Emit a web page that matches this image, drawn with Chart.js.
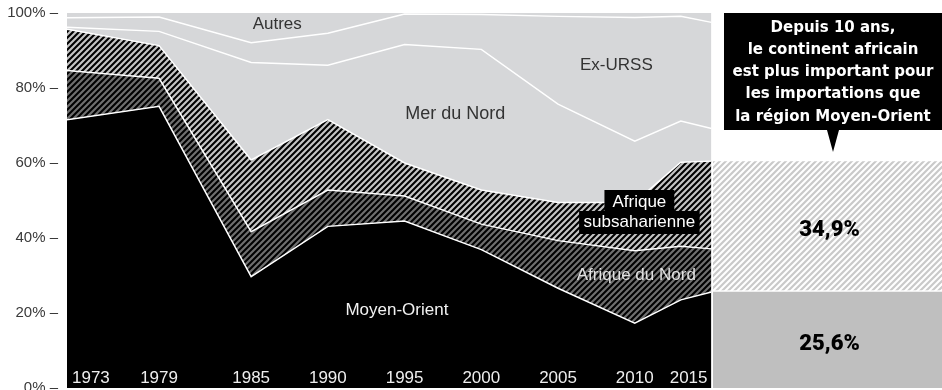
<!DOCTYPE html>
<html>
<head>
<meta charset="utf-8">
<style>
  html, body { margin: 0; padding: 0; background: #fff; }
  #wrap { display: flex; width: 942px; height: 390px; }
  canvas { display: block; }
</style>
<script src="https://cdn.jsdelivr.net/npm/chart.js@4.4.1/dist/chart.umd.min.js"></script>
</head>
<body>
<div id="wrap">
  <canvas id="areas" width="713" height="390"></canvas>
  <canvas id="parts" width="229" height="390"></canvas>
</div>
<script>
// provenance des importations de pétrole brut, en % du total
const years = [1973, 1979, 1985, 1990, 1995, 2000, 2005, 2010, 2013, 2015];
const moyenOrient = [71.5, 75.1, 29.7, 43.1, 44.5, 36.9, 26.6, 17.3, 23.5, 25.6];
const afriqueNord = [13.2, 7.5, 12.0, 9.7, 6.7, 6.8, 12.7, 19.3, 14.3, 11.5];
const afriqueSub = [11.0, 8.7, 19.1, 18.8, 8.8, 9.1, 10.2, 12.9, 22.4, 23.4];
const merDuNord = [0.5, 3.8, 26.0, 14.5, 31.6, 37.5, 26.2, 16.3, 11.0, 8.7];
const exUrss = [2.5, 3.8, 5.3, 8.5, 8.1, 9.3, 23.4, 33.0, 27.9, 28.3];
const autres = [1.3, 1.1, 7.9, 5.4, 0.3, 0.4, 0.9, 1.2, 0.9, 2.5];

const yearTicks = [1973, 1979, 1985, 1990, 1995, 2000, 2005, 2010, 2015];
const pctTicks = [0, 20, 40, 60, 80, 100];

// dernière année : Moyen-Orient vs continent africain
const partNames = ['Moyen-Orient', 'Afrique'];
const partValues = [25.6, 34.9];

const calloutLines = [
  'Depuis 10 ans,',
  'le continent africain',
  'est plus important pour',
  'les importations que',
  'la région Moyen-Orient'
];

const GREY = '#d6d7d9';

// motif hachuré "/" de période `size`
function hatch(bg, fg, size) {
  const c = document.createElement('canvas');
  c.width = c.height = size;
  const g = c.getContext('2d');
  g.fillStyle = bg;
  g.fillRect(0, 0, size, size);
  g.strokeStyle = fg;
  g.lineWidth = size * 0.36;
  g.beginPath();
  g.moveTo(0, size); g.lineTo(size, 0);
  g.moveTo(-1, 1); g.lineTo(1, -1);
  g.moveTo(size - 1, size + 1); g.lineTo(size + 1, size - 1);
  g.stroke();
  return g.createPattern(c, 'repeat');
}

const ctxA = document.getElementById('areas').getContext('2d');
const ctxB = document.getElementById('parts').getContext('2d');

const hatchSub = hatch('#000', '#c4c4c4', 6);
const hatchNord = hatch('#000', '#6f6f6f', 6);
const hatchPanel = hatch('#fff', '#c9c9c9', 6);

function serie(label, values, fill, bg, border) {
  return {
    label: label,
    data: years.map((y, i) => ({ x: y, y: values[i] })),
    fill: fill,
    backgroundColor: bg,
    borderColor: '#fff',
    borderWidth: border,
    pointRadius: 0,
    tension: 0
  };
}

// étiquettes des zones, en coordonnées (année, %)
const zoneLabels = [
  { text: ['Autres'], x: 1986.7, y: 97.3, color: '#333', size: 17 },
  { text: ['Ex-URSS'], x: 2008.8, y: 86.2, color: '#333', size: 17 },
  { text: ['Mer du Nord'], x: 1998.3, y: 73.4, color: '#333', size: 18 },
  { text: ['Afrique', 'subsaharienne'], x: 2010.3, y: 47.2, color: '#fff', size: 17, box: true },
  { text: ['Afrique du Nord'], x: 2010.1, y: 30.2, color: '#e2e2e2', size: 17 },
  { text: ['Moyen-Orient'], x: 1994.5, y: 21.1, color: '#f2f2f2', size: 17 }
];

const areaDecor = {
  id: 'areaDecor',
  afterDatasetsDraw(chart) {
    const { ctx, chartArea, scales } = chart;
    const xs = scales.x, ys = scales.y;
    ctx.save();
    // axe des pourcentages
    ctx.font = '15px "Liberation Sans", Arial, sans-serif';
    ctx.fillStyle = '#3a3a3a';
    ctx.textAlign = 'right';
    ctx.textBaseline = 'middle';
    pctTicks.forEach(v => {
      ctx.fillText(v + '% –', chartArea.left - 9, ys.getPixelForValue(v));
    });
    // années, dans la zone noire
    ctx.font = '17px "Liberation Sans", Arial, sans-serif';
    ctx.fillStyle = '#eeeeee';
    ctx.textBaseline = 'alphabetic';
    const yb = chartArea.bottom - 5.5;
    yearTicks.forEach((yr, i) => {
      let px = xs.getPixelForValue(yr);
      if (i === 0) { ctx.textAlign = 'left'; px = chartArea.left + 5; }
      else if (i === yearTicks.length - 1) { ctx.textAlign = 'right'; px = chartArea.right - 4; }
      else ctx.textAlign = 'center';
      ctx.fillText(String(yr), px, yb);
    });
    // noms des zones
    ctx.textAlign = 'center';
    ctx.textBaseline = 'middle';
    zoneLabels.forEach(l => {
      ctx.font = l.size + 'px "Liberation Sans", Arial, sans-serif';
      const px = xs.getPixelForValue(l.x);
      const py = ys.getPixelForValue(l.y);
      const lh = 20;
      const y0 = py - (l.text.length - 1) * lh / 2;
      if (l.box) {
        ctx.fillStyle = '#000';
        l.text.forEach((t, k) => {
          const w = ctx.measureText(t).width + (k === 0 ? 16 : 9);
          ctx.fillRect(px - w / 2, y0 + k * lh - lh / 2 - (k === 0 ? 1 : 0), w, lh + (k === 0 ? 1 : 3));
        });
      }
      ctx.fillStyle = l.color;
      l.text.forEach((t, k) => ctx.fillText(t, px, y0 + k * lh + 1));
    });
    ctx.restore();
  }
};

new Chart(ctxA, {
  type: 'line',
  data: {
    datasets: [
      serie('Moyen-Orient', moyenOrient, 'origin', '#000', 1.5),
      serie('Afrique du Nord', afriqueNord, '-1', hatchNord, 1.5),
      serie('Afrique subsaharienne', afriqueSub, '-1', hatchSub, 1.5),
      serie('Mer du Nord', merDuNord, '-1', GREY, 1.5),
      serie('Ex-URSS', exUrss, '-1', GREY, 1.5),
      serie('Autres', autres, '-1', GREY, 0)
    ]
  },
  options: {
    responsive: false,
    animation: false,
    layout: { padding: { left: 67, right: 1.5, top: 13, bottom: 2 } },
    plugins: { legend: { display: false }, tooltip: { enabled: false } },
    scales: {
      x: { type: 'linear', min: years[0], max: years[years.length - 1], display: false },
      y: { stacked: true, min: 0, max: 100, display: false }
    }
  },
  plugins: [areaDecor]
});

const partDecor = {
  id: 'partDecor',
  afterDatasetsDraw(chart) {
    const { ctx, chartArea } = chart;
    ctx.save();
    // valeurs dans les barres
    ctx.font = '900 22px Roboto, Lato, "Liberation Sans", sans-serif';
    ctx.fillStyle = '#000';
    ctx.textAlign = 'center';
    ctx.textBaseline = 'middle';
    chart.data.datasets.forEach((ds, i) => {
      const el = chart.getDatasetMeta(i).data[0];
      const v = ds.data[0];
      ctx.fillText(v.toFixed(1).replace('.', ',') + '%', el.x + 2, (el.y + el.base) / 2 + 4);
    });
    // bulle
    const left = 11, right = chartArea.right, top = chartArea.top, bottom = top + 117;
    const cx = (left + right) / 2;
    ctx.fillStyle = '#000';
    ctx.fillRect(left, top, right - left, bottom - top);
    ctx.beginPath();
    ctx.moveTo(cx - 6, bottom);
    ctx.lineTo(cx + 6, bottom);
    ctx.lineTo(cx, bottom + 22);
    ctx.closePath();
    ctx.fill();
    ctx.font = 'bold 15px "DejaVu Sans", sans-serif';
    ctx.fillStyle = '#fff';
    ctx.textBaseline = 'alphabetic';
    calloutLines.forEach((t, k) => ctx.fillText(t, cx, top + 18.5 + k * 22.3));
    ctx.restore();
  }
};

new Chart(ctxB, {
  type: 'bar',
  data: {
    labels: [''],
    datasets: [
      { label: partNames[0], data: [partValues[0]], backgroundColor: '#bfbfbf', borderWidth: 0 },
      {
        label: partNames[1], data: [partValues[1]], backgroundColor: hatchPanel,
        borderColor: '#fff', borderWidth: { top: 0, left: 0, right: 0, bottom: 2 }, borderSkipped: false
      }
    ]
  },
  options: {
    responsive: false,
    animation: false,
    layout: { padding: { top: 13, bottom: 2 } },
    datasets: { bar: { barPercentage: 1, categoryPercentage: 1 } },
    plugins: { legend: { display: false }, tooltip: { enabled: false } },
    scales: {
      x: { stacked: true, display: false },
      y: { stacked: true, min: 0, max: 100, display: false }
    }
  },
  plugins: [partDecor]
});
</script>
</body>
</html>
